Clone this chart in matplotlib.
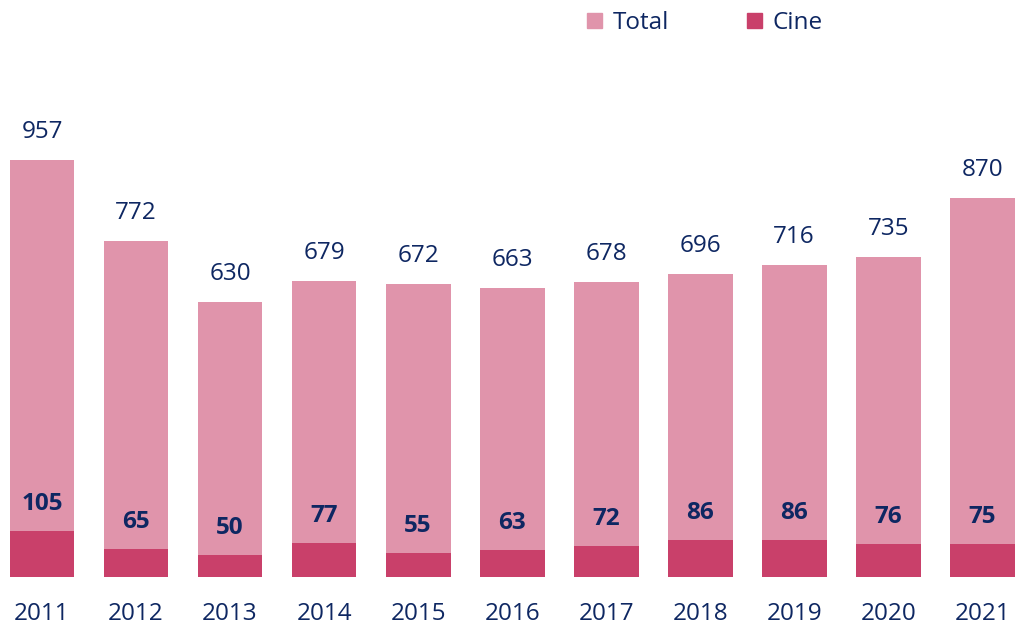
import numpy as np
import matplotlib.pyplot as plt
from matplotlib.patches import Patch

# Values
years = ['2011', '2012', '2013', '2014', '2015', '2016', '2017', '2018', '2019', '2020', '2021']
total = [957, 772, 630, 679, 672, 663, 678, 696, 716, 735, 870]
cine = [105, 65, 50, 77, 55, 63, 72, 86, 86, 76, 75]

pink_light = '#E094AB'
pink_dark = '#C9406A'
navy = '#0E2762'

plt.rcParams['font.family'] = ['Open Sans', 'DejaVu Sans']

fig = plt.figure(figsize=(10.16, 6.25), dpi=100)
ax = fig.add_axes([0, 48 / 625, 1, 577 / 625])

x = np.arange(len(years))
ax.bar(x, total, width=0.69, color=pink_light)
ax.bar(x, cine, width=0.69, color=pink_dark)

for i in range(len(years)):
    ax.annotate(str(total[i]), (x[i], total[i]), xytext=(0, 28), textcoords='offset pixels',
                ha='center', va='center', fontsize=17.5, color=navy)
    ax.annotate(str(cine[i]), (x[i], cine[i]), xytext=(0, 27), textcoords='offset pixels',
                ha='center', va='center', fontsize=17.5, color=navy, fontweight='bold')

ax.set_xlim(-0.447, 10.36)
ax.set_ylim(0, 1324)
ax.set_xticks(x)
ax.set_xticklabels(years, fontsize=17.5, color=navy)
ax.tick_params(axis='x', length=0, pad=18)
ax.set_yticks([])
for s in ax.spines.values():
    s.set_visible(False)

handles = [Patch(color=pink_light, label='Total'), Patch(color=pink_dark, label='Cine')]
leg = fig.legend(handles=handles, loc='center', bbox_to_anchor=(705 / 1016, 1 - 23 / 625), ncol=2,
                 frameon=False, fontsize=17.5, handlelength=0.6, handleheight=0.6,
                 handletextpad=0.45, columnspacing=3.2)
for t in leg.get_texts():
    t.set_color(navy)

fig.savefig('out.png', dpi=100)
